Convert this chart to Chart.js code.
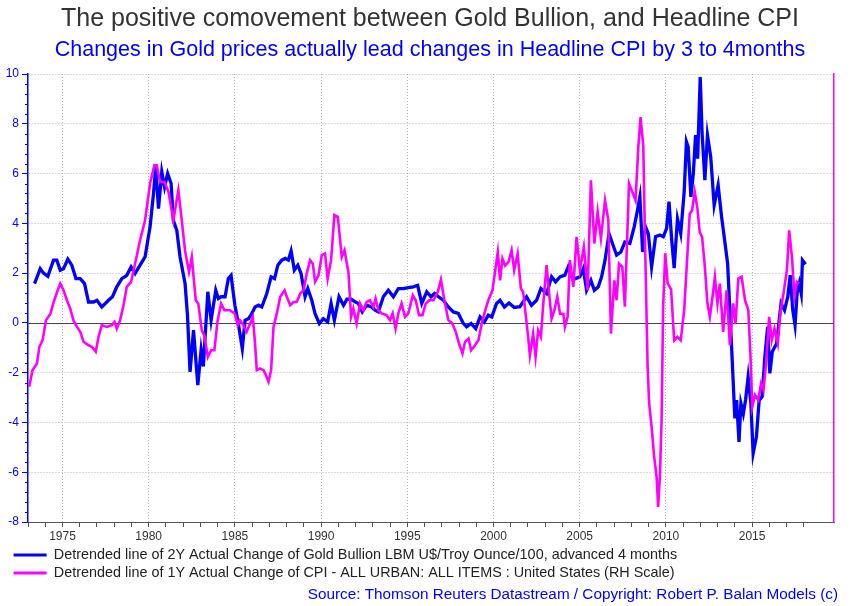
<!DOCTYPE html>
<html>
<head>
<meta charset="utf-8">
<style>
  html, body { margin: 0; padding: 0; background: #fff; }
  #wrap { width: 860px; height: 606px; }
</style>
<script src="https://cdn.jsdelivr.net/npm/chart.js@4.4.1/dist/chart.umd.min.js"></script>
</head>
<body>
<div id="wrap"><canvas id="grafica" width="860" height="606"></canvas></div>
<script>
// Gold bullion (2Y change, detrended, advanced 4 months)
const goldYears = [1973.38,1973.71,1973.9,1974.15,1974.48,1974.67,1974.87,1975.06,1975.31,1975.54,1975.78,1976.03,1976.28,1976.51,1976.8,1977.0,1977.28,1977.67,1977.9,1978.15,1978.44,1978.73,1978.98,1979.21,1979.5,1979.79,1980.08,1980.28,1980.41,1980.57,1980.76,1980.92,1981.1,1981.3,1981.43,1981.63,1981.82,1982.11,1982.25,1982.4,1982.6,1982.85,1983.04,1983.17,1983.43,1983.62,1983.89,1984.04,1984.2,1984.43,1984.62,1984.78,1984.91,1985.0,1985.2,1985.43,1985.59,1985.79,1985.98,1986.17,1986.37,1986.56,1986.85,1987.1,1987.3,1987.49,1987.72,1987.92,1988.1,1988.26,1988.45,1988.65,1988.84,1989.07,1989.23,1989.46,1989.65,1989.9,1990.13,1990.38,1990.58,1990.77,1991.04,1991.3,1991.5,1991.74,1991.97,1992.16,1992.39,1992.64,1992.93,1993.13,1993.32,1993.61,1993.9,1994.19,1994.48,1994.77,1995.06,1995.35,1995.6,1995.84,1996.13,1996.38,1996.58,1996.81,1997.09,1997.38,1997.67,1997.96,1998.25,1998.44,1998.7,1998.97,1999.22,1999.47,1999.7,1999.9,2000.18,2000.38,2000.63,2000.9,2001.2,2001.53,2001.92,2002.2,2002.5,2002.75,2003.08,2003.37,2003.6,2003.85,2004.14,2004.33,2004.53,2004.76,2005.01,2005.21,2005.4,2005.65,2005.85,2006.08,2006.27,2006.47,2006.7,2006.9,2007.14,2007.39,2007.62,2007.91,2008.16,2008.35,2008.49,2008.65,2008.82,2008.98,2009.17,2009.4,2009.65,2009.85,2010.04,2010.18,2010.33,2010.48,2010.67,2010.86,2011.06,2011.19,2011.29,2011.45,2011.59,2011.72,2011.84,2011.99,2012.1,2012.26,2012.41,2012.6,2012.8,2013.03,2013.23,2013.42,2013.58,2013.71,2013.81,2014.0,2014.1,2014.24,2014.35,2014.49,2014.62,2014.77,2014.93,2015.06,2015.25,2015.41,2015.58,2015.74,2015.9,2016.03,2016.17,2016.42,2016.68,2016.88,2017.07,2017.21,2017.36,2017.49,2017.61,2017.74,2017.85,2017.92,2018.1];
const goldValues = [1.58,2.18,2.0,1.87,2.52,2.52,2.12,2.18,2.56,2.32,1.78,1.78,1.58,0.84,0.84,0.91,0.64,0.91,1.05,1.45,1.78,1.91,2.25,1.98,2.32,2.65,3.86,5.2,6.27,4.59,6.07,5.46,6.0,5.6,4.12,3.72,2.65,1.58,0.3,-1.97,-0.29,-2.5,-1.09,-1.75,1.25,0.1,1.31,0.98,1.05,1.05,1.78,1.91,1.18,0.71,-0.03,-1.03,0.1,0.17,0.37,0.64,0.71,0.64,1.18,1.85,1.78,2.32,2.52,2.59,2.52,2.89,2.12,2.32,1.98,1.05,1.38,0.91,0.37,-0.03,0.17,0.04,0.78,0.1,1.05,0.71,0.95,0.95,0.85,0.78,0.44,0.71,0.64,0.51,0.44,1.05,1.31,1.05,1.38,1.38,1.42,1.45,1.51,0.78,1.25,1.05,1.18,1.05,0.91,0.64,0.44,0.38,-0.02,-0.16,-0.02,-0.23,0.24,0.04,0.31,0.24,0.78,0.91,0.64,0.8,0.62,0.65,1.05,0.71,0.91,1.38,1.18,1.85,1.65,1.85,1.92,2.25,1.85,1.78,1.85,2.18,1.31,1.71,1.31,1.45,1.85,2.52,3.59,3.19,2.72,2.85,3.25,3.19,3.86,4.52,5.06,2.85,3.86,3.59,2.25,3.46,3.53,3.46,3.8,4.87,3.4,2.2,4.19,3.59,5.26,7.28,7.07,5.06,6.0,7.55,6.6,9.88,7.61,5.73,7.55,6.67,4.72,5.53,4.26,3.25,2.38,0.5,-0.96,-3.84,-3.1,-4.78,-3.24,-3.65,-3.1,-2.17,-3.24,-5.25,-4.58,-3.1,-2.97,-1.36,-0.16,-2.03,-1.16,-0.83,0.78,0.51,1.05,1.92,0.51,-0.09,1.18,1.59,1.18,2.52,2.36];

// Headline CPI (1Y change, detrended, RH scale)
const cpiYears = [1973.07,1973.26,1973.52,1973.66,1973.85,1974.04,1974.3,1974.49,1974.69,1974.87,1975.06,1975.26,1975.45,1975.64,1975.84,1976.03,1976.22,1976.51,1976.7,1976.93,1977.09,1977.28,1977.57,1977.86,1978.02,1978.15,1978.34,1978.54,1978.73,1978.98,1979.21,1979.5,1979.79,1980.08,1980.33,1980.47,1980.66,1980.92,1981.15,1981.43,1981.72,1981.92,1982.11,1982.34,1982.5,1982.73,1982.88,1983.08,1983.23,1983.43,1983.62,1983.81,1984.0,1984.2,1984.39,1984.72,1985.0,1985.16,1985.3,1985.49,1985.68,1985.88,1986.04,1986.17,1986.27,1986.46,1986.66,1986.8,1986.95,1987.1,1987.24,1987.43,1987.63,1987.88,1988.01,1988.21,1988.4,1988.59,1988.79,1988.98,1989.17,1989.36,1989.52,1989.65,1989.85,1990.04,1990.23,1990.38,1990.58,1990.77,1990.97,1991.2,1991.36,1991.59,1991.74,1991.87,1992.06,1992.26,1992.45,1992.64,1992.84,1993.03,1993.16,1993.32,1993.51,1993.8,1994.0,1994.15,1994.32,1994.48,1994.67,1994.87,1995.06,1995.32,1995.49,1995.68,1995.88,1996.07,1996.27,1996.52,1996.77,1996.95,1997.15,1997.38,1997.61,1997.81,1998.0,1998.2,1998.35,1998.55,1998.7,1998.93,1999.13,1999.32,1999.47,1999.7,1999.94,2000.13,2000.25,2000.38,2000.52,2000.67,2000.87,2001.05,2001.2,2001.4,2001.59,2001.72,2001.86,2002.01,2002.11,2002.3,2002.44,2002.59,2002.75,2002.88,2003.08,2003.21,2003.37,2003.53,2003.7,2003.86,2004.05,2004.14,2004.3,2004.43,2004.63,2004.82,2005.01,2005.24,2005.46,2005.65,2005.85,2006.04,2006.23,2006.47,2006.66,2006.81,2007.01,2007.14,2007.28,2007.47,2007.62,2007.86,2008.05,2008.24,2008.4,2008.53,2008.69,2008.78,2008.94,2009.03,2009.17,2009.32,2009.46,2009.55,2009.65,2009.75,2009.84,2009.96,2010.1,2010.3,2010.48,2010.67,2010.86,2011.06,2011.25,2011.38,2011.52,2011.67,2011.83,2011.96,2012.1,2012.26,2012.41,2012.55,2012.68,2012.84,2012.99,2013.13,2013.32,2013.52,2013.71,2013.9,2014.04,2014.2,2014.39,2014.59,2014.78,2014.9,2015.01,2015.17,2015.36,2015.52,2015.66,2015.81,2015.99,2016.14,2016.3,2016.49,2016.63,2016.82,2017.02,2017.15,2017.31,2017.46,2017.6,2017.73];
const cpiValues = [-2.57,-1.9,-1.63,-0.96,-0.69,0.1,0.37,0.84,1.25,1.58,1.31,0.91,0.57,0.1,-0.16,-0.36,-0.76,-0.9,-0.96,-1.16,-0.56,-0.09,-0.16,-0.09,0.04,-0.23,0.1,0.71,1.45,1.65,2.38,3.32,4.12,5.6,6.33,6.33,5.66,5.66,5.26,4.12,5.33,4.12,2.9,2.05,2.65,0.91,0.77,-0.3,-0.5,-1.37,-1.1,-1.1,0.1,0.77,0.51,0.51,0.37,-0.09,0.1,-0.09,-0.36,-0.03,0.24,-0.83,-1.9,-1.83,-1.9,-2.1,-2.37,-1.9,-0.16,0.37,1.05,1.31,1.05,0.71,0.84,0.84,1.18,1.31,1.98,2.52,2.38,1.65,1.91,2.72,2.79,1.78,2.52,4.33,4.26,2.65,2.92,2.0,0.24,0.58,-0.02,0.78,0.51,0.84,0.91,0.64,0.98,0.51,0.38,0.31,0.11,0.38,-0.23,0.38,0.78,0.24,0.38,1.11,0.91,0.31,0.31,0.78,0.91,0.91,1.25,1.74,0.91,0.11,-0.02,-0.36,-0.83,-1.23,-0.76,-0.63,-1.1,-0.9,-0.69,-0.02,0.38,0.91,1.31,2.25,2.85,1.71,2.58,2.3,2.45,2.92,2.12,2.78,1.38,1.24,0.37,-0.56,-1.3,-0.43,-1.36,-0.3,-0.56,0.71,2.32,1.31,0.17,0.5,1.05,0.37,0.37,-0.17,0.24,2.52,1.45,3.46,2.12,3.05,1.31,5.73,3.19,4.46,3.39,4.92,4.12,-0.43,1.71,0.91,2.38,2.25,0.65,5.6,5.26,4.92,7.07,8.27,7.07,3.59,-1.77,-3.24,-4.18,-5.38,-6.18,-7.39,-6.18,-3.91,0.65,2.8,1.6,1.35,-0.7,-0.56,-0.7,0.51,2.78,4.39,4.52,5.26,4.59,3.65,3.45,2.25,0.78,0.24,0.91,1.85,0.78,1.58,-0.36,1.31,-0.9,0.78,-0.03,1.78,1.85,0.91,0.51,-1.23,-3.37,-2.9,-3.1,-2.43,-2.7,-1.63,0.24,-0.7,-0.23,-0.83,0.38,1.18,2.12,3.72,2.65,1.05,1.65,1.58];

const goldLabel = 'Detrended line of 2Y Actual Change of Gold Bullion LBM U$/Troy Ounce/100, advanced 4 months';
const cpiLabel = 'Detrended line of 1Y Actual Change of CPI - ALL URBAN: ALL ITEMS : United States (RH Scale)';
const yMin = -8, yMax = 10;
const xMin = 1973.0, xMax = 2019.75;

Chart.defaults.font.family = "'Liberation Sans', Arial, sans-serif";

const extras = {
    id: 'extras',
    beforeDraw(chart) {
        // push the legend rows in a bit from the left edge
        if (chart.legend) chart.legend.left = 10;
    },
    beforeDatasetsDraw(chart) {
        const {ctx, chartArea, scales} = chart;
        const y0 = Math.round(scales.y.getPixelForValue(0)) + 0.5;
        ctx.save();
        ctx.strokeStyle = '#444';
        ctx.lineWidth = 1;
        ctx.beginPath();
        ctx.moveTo(chartArea.left, y0);
        ctx.lineTo(chartArea.right, y0);
        ctx.stroke();
        ctx.restore();
    },
    afterDraw(chart) {
        const {ctx, chartArea, scales} = chart;
        ctx.save();
        // minor ticks on the left scale
        ctx.strokeStyle = '#0000ff';
        ctx.lineWidth = 1;
        for (let k = 0; k <= 45; k++) {
            if (k % 5 === 0) continue;
            const py = Math.round(scales.y.getPixelForValue(yMin + k * 0.4)) + 0.5;
            ctx.beginPath();
            ctx.moveTo(chartArea.left - 3, py);
            ctx.lineTo(chartArea.left, py);
            ctx.stroke();
        }
        ctx.fillStyle = '#0000ff';
        ctx.font = "15.3px 'Liberation Sans', Arial, sans-serif";
        ctx.textAlign = 'right';
        ctx.textBaseline = 'middle';
        ctx.fillText('Source: Thomson Reuters Datastream / Copyright: Robert P. Balan Models (c)', 838, 595);
        ctx.restore();
    }
};

const ctx = document.getElementById('grafica').getContext('2d');
const myChart = new Chart(ctx, {
    type: 'line',
    data: {
        datasets: [{
            label: goldLabel,
            data: goldYears.map((x, i) => ({x: x, y: goldValues[i]})),
            borderColor: '#0000ff',
            backgroundColor: '#0000ff',
            borderWidth: 3.3,
            pointRadius: 0,
            tension: 0,
            yAxisID: 'y',
            order: 1
        }, {
            label: cpiLabel,
            data: cpiYears.map((x, i) => ({x: x, y: cpiValues[i]})),
            borderColor: '#ff00ff',
            backgroundColor: '#ff00ff',
            borderWidth: 2.6,
            pointRadius: 0,
            tension: 0,
            yAxisID: 'y2',
            order: 0
        }]
    },
    options: {
        responsive: false,
        animation: false,
        layout: { padding: { left: 0, right: 0, top: 0, bottom: 15.8 } },
        scales: {
            x: {
                type: 'linear',
                min: xMin,
                max: xMax,
                afterBuildTicks: scale => {
                    scale.ticks = scale.ticks.filter(t => Number.isInteger(t.value));
                },
                afterFit: scale => { scale.height = 22.2; },
                ticks: {
                    stepSize: 1,
                    autoSkip: false,
                    maxRotation: 0,
                    padding: 2,
                    color: '#333',
                    font: { size: 12 },
                    callback: v => (v % 5 === 0 ? String(v) : '')
                },
                grid: {
                    color: c => (c.tick && c.tick.value % 5 === 0 ? '#b4b4b4' : 'rgba(0,0,0,0)'),
                    tickColor: '#555',
                    tickLength: 5,
                    tickBorderDash: []
                },
                border: { color: '#555', width: 1, dash: [1, 2] }
            },
            y: {
                position: 'left',
                min: yMin,
                max: yMax,
                afterFit: scale => { scale.width = 28; },
                ticks: {
                    stepSize: 2,
                    padding: 3,
                    color: '#0000ff',
                    font: { size: 12 }
                },
                grid: {
                    color: c => (c.tick && c.tick.value === 0 ? 'rgba(0,0,0,0)' : '#b4b4b4'),
                    tickColor: '#0000ff',
                    tickLength: 6,
                    tickBorderDash: []
                },
                border: { color: '#0000ff', width: 1.5, dash: [1, 2] }
            },
            y2: {
                position: 'right',
                min: yMin,
                max: yMax,
                afterFit: scale => { scale.width = 26; },
                ticks: { display: false },
                grid: { display: false, drawTicks: false },
                border: { color: '#ff00ff', width: 1.5 }
            }
        },
        plugins: {
            title: {
                display: true,
                text: 'The positive comovement between Gold Bullion, and Headline CPI',
                color: '#333',
                font: { size: 25, weight: 'normal' },
                padding: { top: 4, bottom: 0 }
            },
            subtitle: {
                display: true,
                text: 'Changes in Gold prices actually lead changes in Headline CPI by 3 to 4months',
                color: '#0000ff',
                font: { size: 21.5, weight: 'normal' },
                padding: { top: 3.6, bottom: 10.6 }
            },
            legend: {
                display: true,
                position: 'bottom',
                align: 'start',
                labels: {
                    boxWidth: 33,
                    boxHeight: 3,
                    padding: 3.6,
                    color: '#222',
                    font: { size: 14.4 },
                    sort: (a, b) => a.datasetIndex - b.datasetIndex,
                    generateLabels: chart => {
                        const items = Chart.defaults.plugins.legend.labels.generateLabels(chart);
                        items.forEach(it => { it.lineWidth = 0; it.fillStyle = it.strokeStyle; });
                        return items;
                    }
                }
            },
            tooltip: { enabled: false }
        }
    },
    plugins: [extras]
});
</script>
</body>
</html>
